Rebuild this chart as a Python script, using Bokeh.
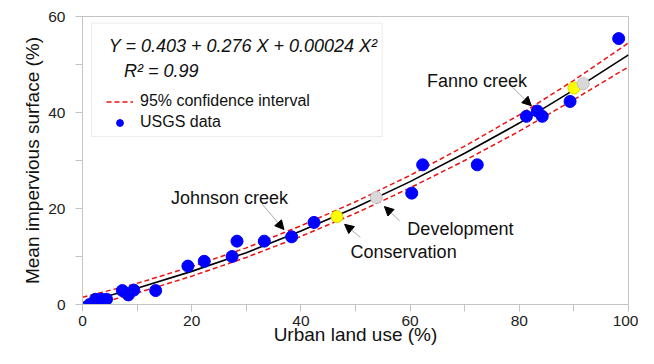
from bokeh.plotting import figure
from bokeh.models import (Range1d, FixedTicker, BoxAnnotation, Label, Legend, LegendItem,
                          Arrow, NormalHead)
from bokeh.embed import file_html
from bokeh.resources import INLINE

# ---- data ----
usgs_x = [1.3, 2.4, 3.4, 4.4, 7.3, 8.4, 9.4, 13.4, 19.3, 22.3, 27.4, 28.3, 33.3, 38.3,
          42.4, 60.3, 62.3, 72.3, 81.3, 83.3, 84.2, 89.3, 98.2]
usgs_y = [0.0, 1.1, 1.1, 1.1, 2.9, 2.0, 3.0, 2.9, 8.0, 9.0, 10.0, 13.2, 13.2, 14.1,
          17.1, 23.2, 29.1, 29.1, 39.2, 40.3, 39.2, 42.3, 55.4]

conservation_x = [46.6, 90.0]
conservation_y = [18.3, 45.1]
development_x = [53.8, 91.7]
development_y = [22.3, 46.0]

fit_x = [0, 10, 20, 30, 40, 50, 60, 70, 80, 90, 100]
fit_y = [0.4, 3.4, 6.9, 10.8, 15.3, 20.2, 25.6, 31.5, 37.8, 44.7, 52.0]
ci_upper = [1.5, 4.4, 7.9, 11.8, 16.4, 21.4, 26.9, 33.0, 39.5, 46.7, 54.5]
ci_lower = [-0.7, 2.4, 5.9, 9.8, 14.2, 19.0, 24.3, 30.0, 36.1, 42.7, 49.5]

x_ticks = [0, 10, 20, 30, 40, 50, 60, 70, 80, 90, 100]
x_tick_labels = {0: "0", 10: "", 20: "20", 30: "", 40: "40", 50: "", 60: "60",
                 70: "", 80: "80", 90: "", 100: "100"}
y_ticks = [0, 10, 20, 30, 40, 50, 60]
y_tick_labels = {0: "0", 10: "", 20: "20", 30: "", 40: "40", 50: "", 60: "60"}

equation_text = "Y = 0.403 + 0.276 X + 0.00024 X\u00b2"
r2_text = "R\u00b2 = 0.99"

# annotation texts and arrows (text left x, baseline y, arrow start, arrow tip)
annotations = [
    ("Johnson creek", 16.2, 22.1, (32.9, 20.9), (36.9, 15.6)),
    ("Conservation", 49.1, 10.9, (50.9, 14.0), (48.0, 16.7)),
    ("Development", 59.5, 15.8, (58.1, 17.4), (55.3, 20.4)),
    ("Fanno creek", 63.1, 46.5, (78.7, 45.3), (82.2, 41.4)),
]

FONT = "Liberation Sans"
GRAY = "#c4c4c4"

p = figure(width=638, height=348, output_backend="svg", toolbar_location=None,
           x_range=Range1d(0, 100), y_range=Range1d(0, 60),
           min_border_left=82, min_border_right=10, min_border_top=16, min_border_bottom=44)
p.xgrid.visible = False
p.ygrid.visible = False
p.outline_line_color = GRAY
p.background_fill_color = "white"

for ax in (p.xaxis[0], p.yaxis[0]):
    ax.axis_line_color = GRAY
    ax.major_tick_line_color = GRAY
    ax.minor_tick_line_color = None
    ax.major_tick_out = 7
    ax.major_tick_in = 0
    ax.major_label_text_font = FONT
    ax.major_label_text_font_size = "15.5px"
    ax.major_label_text_color = "#222222"
    ax.axis_label_text_font = FONT
    ax.axis_label_text_font_size = "19px"
    ax.axis_label_text_font_style = "normal"
    ax.axis_label_text_color = "#111111"

p.xaxis.ticker = FixedTicker(ticks=x_ticks)
p.xaxis.major_label_overrides = x_tick_labels
p.yaxis.ticker = FixedTicker(ticks=y_ticks)
p.yaxis.major_label_overrides = y_tick_labels
p.xaxis.axis_label = "Urban land use (%)"
p.yaxis.axis_label = "Mean impervious surface (%)"
p.xaxis.major_label_standoff = 4
p.yaxis.major_label_standoff = 10
p.xaxis.axis_label_standoff = -5
p.yaxis.axis_label_standoff = 2

# lines
up = p.line(fit_x, ci_upper, line_color="#ee1111", line_dash="5 3", line_width=1.5)
p.line(fit_x, ci_lower, line_color="#ee1111", line_dash="5 3", line_width=1.5)
p.line(fit_x, fit_y, line_color="black", line_width=1.6)

# arrows + annotation text
for txt, tx, ty, (sx, sy), (ex, ey) in annotations:
    p.add_layout(Arrow(x_start=sx, y_start=sy, x_end=ex, y_end=ey,
                       line_color="#a8a8a8", line_width=1,
                       end=NormalHead(size=9, fill_color="black", line_color="black")))
    p.add_layout(Label(x=tx, y=ty, text=txt, text_font=FONT, text_font_size="18px",
                       text_color="#111111", text_baseline="alphabetic"))

# points
pts = p.scatter(usgs_x, usgs_y, size=12, fill_color="blue", line_color="blue")
p.scatter(conservation_x, conservation_y, size=12, fill_color="#ffff00", line_color="#d8d800")
p.scatter(development_x, development_y, size=12, fill_color="#d9d9d9", line_color="#c0c0c0")

# legend box
p.add_layout(BoxAnnotation(left=1.65, right=54.9, bottom=35.0, top=58.6,
                           fill_color="white", fill_alpha=1.0,
                           line_color=GRAY, line_width=1))
p.add_layout(Label(x=4.8, y=53.8, text=equation_text, text_font=FONT, text_font_size="18px",
                   text_font_style="italic", text_color="#111111", text_baseline="alphabetic"))
p.add_layout(Label(x=7.6, y=48.6, text=r2_text, text_font=FONT, text_font_size="18px",
                   text_font_style="italic", text_color="#111111", text_baseline="alphabetic"))

legend = Legend(items=[LegendItem(label="95% confidence interval", renderers=[up]),
                       LegendItem(label="USGS data", renderers=[pts])],
                location=(24, 173), padding=0, spacing=3, glyph_width=27, glyph_height=17,
                label_height=17, label_standoff=7, border_line_alpha=0,
                background_fill_alpha=0, label_text_font=FONT,
                label_text_font_size="16px", label_text_color="#111111")
p.add_layout(legend)

open("out.html", "w").write(file_html(p, INLINE))
